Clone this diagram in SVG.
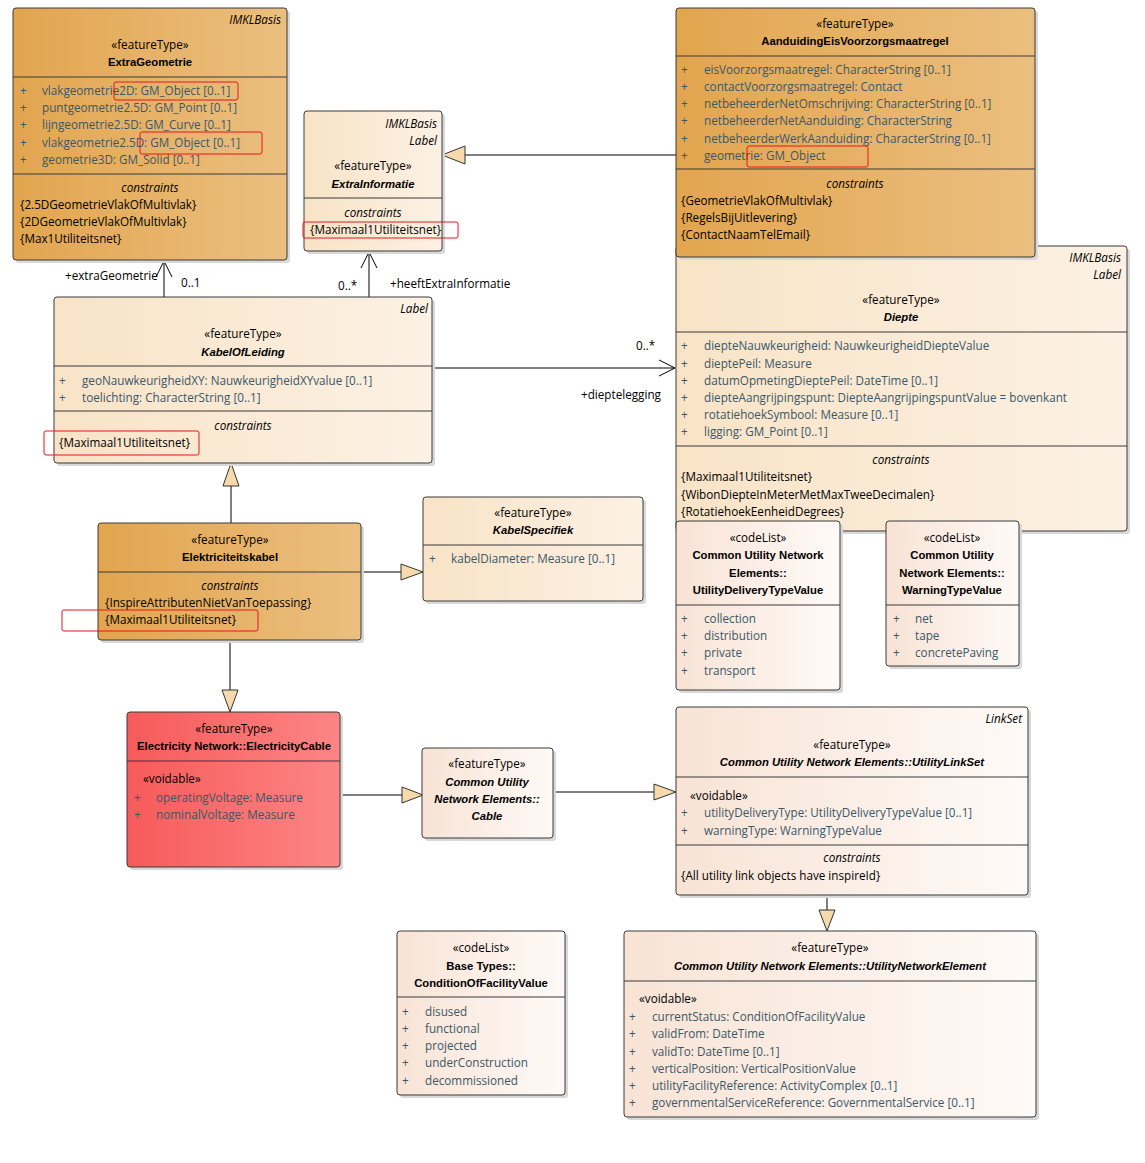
<svg xmlns="http://www.w3.org/2000/svg" width="1145" height="1163" viewBox="0 0 1145 1163">
<defs>
<linearGradient id="gOr" x1="0" y1="0" x2="1" y2="0"><stop offset="0" stop-color="#e2a54e"/><stop offset="1" stop-color="#ebbf80"/></linearGradient>
<linearGradient id="gLt" x1="0" y1="0" x2="1" y2="0"><stop offset="0" stop-color="#f8e3c6"/><stop offset="1" stop-color="#fcf1e4"/></linearGradient>
<linearGradient id="gPk" x1="0" y1="0" x2="1" y2="0"><stop offset="0" stop-color="#f8e3d5"/><stop offset="1" stop-color="#fefaf7"/></linearGradient>
<linearGradient id="gRd" x1="0" y1="0" x2="1" y2="0"><stop offset="0" stop-color="#f75a5a"/><stop offset="1" stop-color="#fd8585"/></linearGradient>
<marker id="open" viewBox="0 0 20 20" refX="18" refY="10" markerWidth="20" markerHeight="20" markerUnits="userSpaceOnUse" orient="auto"><path d="M2,2 L18,10 L2,18" fill="none" stroke="#000" stroke-width="1"/></marker>
</defs>
<style>
text{font-family:"Open Sans","Liberation Sans",Arial,sans-serif;font-size:11.7px;fill:#000}
.c{text-anchor:middle}
.r{text-anchor:end}
.b{font-weight:bold;font-family:"Liberation Sans",Arial,sans-serif;font-size:11.3px}
.i{font-style:italic}
.a{fill:#3a5868}
.box{stroke:#3a3a3a;stroke-width:1}
.sh{fill:#d8d8d8}
.dv{stroke:#3a3a3a;stroke-width:1}
.hl{fill:none;stroke:#e8141c;stroke-width:1}
.ln{stroke:#000;stroke-width:1;fill:none}
.tri{fill:#f6d9ad;stroke:#333;stroke-width:1}
</style>
<rect width="1145" height="1163" fill="#fff"/>

<g id="connectors">
<line class="ln" x1="164" y1="297" x2="164" y2="261" marker-end="url(#open)"/>
<text x="65" y="280">+extraGeometrie</text>
<text x="181" y="287">0..1</text>
<line class="ln" x1="369" y1="297" x2="369" y2="252" marker-end="url(#open)"/>
<text x="338" y="290">0..*</text>
<text x="390" y="288">+heeftExtraInformatie</text>
<line class="ln" x1="432" y1="368" x2="675" y2="368" marker-end="url(#open)"/>
<text x="636" y="350">0..*</text>
<text x="581" y="399">+dieptelegging</text>
<line class="ln" x1="676" y1="155" x2="464" y2="155"/>
<path class="tri" d="M442,155 L465,146 L465,164 Z"/>
<line class="ln" x1="231" y1="523" x2="231" y2="486"/>
<path class="tri" d="M231,463 L223,486 L239,486 Z"/>
<line class="ln" x1="361" y1="572" x2="401" y2="572"/>
<path class="tri" d="M423,572 L401,564 L401,580 Z"/>
<line class="ln" x1="230" y1="640" x2="230" y2="690"/>
<path class="tri" d="M230,712 L222,690 L238,690 Z"/>
<line class="ln" x1="340" y1="795" x2="402" y2="795"/>
<path class="tri" d="M423,795 L402,787 L402,803 Z"/>
<line class="ln" x1="553" y1="792" x2="654" y2="792"/>
<path class="tri" d="M676,792 L654,784 L654,800 Z"/>
<line class="ln" x1="827" y1="895" x2="827" y2="910"/>
<path class="tri" d="M827,931 L819,910 L835,910 Z"/>
</g>

<g id="ExtraGeometrie">
<rect class="sh" x="16" y="11" width="274" height="252" rx="3"/>
<rect class="box" x="13" y="8" width="274" height="252" rx="3" fill="url(#gOr)"/>
<text class="r i" x="281" y="24">IMKLBasis</text>
<text class="c" x="150" y="49">«featureType»</text>
<text class="c b" x="150" y="66">ExtraGeometrie</text>
<line class="dv" x1="13" y1="77" x2="287" y2="77"/>
<text class="a" x="20" y="95">+</text><text class="a" x="42" y="95">vlakgeometrie2D: GM_Object [0..1]</text>
<text class="a" x="20" y="112">+</text><text class="a" x="42" y="112">puntgeometrie2.5D: GM_Point [0..1]</text>
<text class="a" x="20" y="129">+</text><text class="a" x="42" y="129">lijngeometrie2.5D: GM_Curve [0..1]</text>
<text class="a" x="20" y="147">+</text><text class="a" x="42" y="147">vlakgeometrie2.5D: GM_Object [0..1]</text>
<text class="a" x="20" y="164">+</text><text class="a" x="42" y="164">geometrie3D: GM_Solid [0..1]</text>
<line class="dv" x1="13" y1="174" x2="287" y2="174"/>
<text class="c i" x="150" y="192">constraints</text>
<text x="20" y="209">{2.5DGeometrieVlakOfMultivlak}</text>
<text x="20" y="226">{2DGeometrieVlakOfMultivlak}</text>
<text x="20" y="243">{Max1Utiliteitsnet}</text>
<rect class="hl" x="114" y="82" width="124" height="18" rx="2"/>
<rect class="hl" x="140" y="132" width="122" height="22" rx="2"/>
</g>

<g id="ExtraInformatie">
<rect class="sh" x="307" y="114" width="138" height="140" rx="3"/>
<rect class="box" x="304" y="111" width="138" height="140" rx="3" fill="url(#gLt)"/>
<text class="r i" x="437" y="128">IMKLBasis</text>
<text class="r i" x="437" y="145">Label</text>
<text class="c" x="373" y="170">«featureType»</text>
<text class="c b i" x="373" y="188">ExtraInformatie</text>
<line class="dv" x1="304" y1="198" x2="442" y2="198"/>
<text class="c i" x="373" y="217">constraints</text>
<text x="310" y="234">{Maximaal1Utiliteitsnet}</text>
<rect class="hl" x="303" y="222" width="155" height="16" rx="2"/>
</g>

<g id="Diepte">
<rect class="sh" x="679" y="249" width="451" height="285" rx="3"/>
<rect class="box" x="676" y="246" width="451" height="285" rx="3" fill="url(#gLt)"/>
<text class="r i" x="1121" y="262">IMKLBasis</text>
<text class="r i" x="1121" y="279">Label</text>
<text class="c" x="901" y="304">«featureType»</text>
<text class="c b i" x="901" y="321">Diepte</text>
<line class="dv" x1="676" y1="332" x2="1127" y2="332"/>
<text class="a" x="681" y="350">+</text><text class="a" x="704" y="350">diepteNauwkeurigheid: NauwkeurigheidDiepteValue</text>
<text class="a" x="681" y="368">+</text><text class="a" x="704" y="368">dieptePeil: Measure</text>
<text class="a" x="681" y="385">+</text><text class="a" x="704" y="385">datumOpmetingDieptePeil: DateTime [0..1]</text>
<text class="a" x="681" y="402">+</text><text class="a" x="704" y="402">diepteAangrijpingspunt: DiepteAangrijpingspuntValue = bovenkant</text>
<text class="a" x="681" y="419">+</text><text class="a" x="704" y="419">rotatiehoekSymbool: Measure [0..1]</text>
<text class="a" x="681" y="436">+</text><text class="a" x="704" y="436">ligging: GM_Point [0..1]</text>
<line class="dv" x1="676" y1="446" x2="1127" y2="446"/>
<text class="c i" x="901" y="464">constraints</text>
<text x="681" y="481">{Maximaal1Utiliteitsnet}</text>
<text x="681" y="499">{WibonDiepteInMeterMetMaxTweeDecimalen}</text>
<text x="681" y="516">{RotatiehoekEenheidDegrees}</text>
</g>

<g id="AanduidingEisVoorzorgsmaatregel">
<rect class="sh" x="679" y="11" width="359" height="249" rx="3"/>
<rect class="box" x="676" y="8" width="359" height="249" rx="3" fill="url(#gOr)"/>
<text class="c" x="855" y="28">«featureType»</text>
<text class="c b" x="855" y="45">AanduidingEisVoorzorgsmaatregel</text>
<line class="dv" x1="676" y1="56" x2="1035" y2="56"/>
<text class="a" x="681" y="74">+</text><text class="a" x="704" y="74">eisVoorzorgsmaatregel: CharacterString [0..1]</text>
<text class="a" x="681" y="91">+</text><text class="a" x="704" y="91">contactVoorzorgsmaatregel: Contact</text>
<text class="a" x="681" y="108">+</text><text class="a" x="704" y="108">netbeheerderNetOmschrijving: CharacterString [0..1]</text>
<text class="a" x="681" y="125">+</text><text class="a" x="704" y="125">netbeheerderNetAanduiding: CharacterString</text>
<text class="a" x="681" y="143">+</text><text class="a" x="704" y="143">netbeheerderWerkAanduiding: CharacterString [0..1]</text>
<text class="a" x="681" y="160">+</text><text class="a" x="704" y="160">geometrie: GM_Object</text>
<line class="dv" x1="676" y1="169" x2="1035" y2="169"/>
<text class="c i" x="855" y="188">constraints</text>
<text x="681" y="205">{GeometrieVlakOfMultivlak}</text>
<text x="681" y="222">{RegelsBijUitlevering}</text>
<text x="681" y="239">{ContactNaamTelEmail}</text>
<rect class="hl" x="747" y="146" width="121" height="21" rx="2"/>
</g>

<g id="KabelOfLeiding">
<rect class="sh" x="57" y="300" width="378" height="166" rx="3"/>
<rect class="box" x="54" y="297" width="378" height="166" rx="3" fill="url(#gLt)"/>
<text class="r i" x="428" y="313">Label</text>
<text class="c" x="243" y="338">«featureType»</text>
<text class="c b i" x="243" y="356">KabelOfLeiding</text>
<line class="dv" x1="54" y1="366" x2="432" y2="366"/>
<text class="a" x="59" y="385">+</text><text class="a" x="82" y="385">geoNauwkeurigheidXY: NauwkeurigheidXYvalue [0..1]</text>
<text class="a" x="59" y="402">+</text><text class="a" x="82" y="402">toelichting: CharacterString [0..1]</text>
<line class="dv" x1="54" y1="411" x2="432" y2="411"/>
<text class="c i" x="243" y="430">constraints</text>
<text x="59" y="447">{Maximaal1Utiliteitsnet}</text>
<rect class="hl" x="44" y="431" width="155" height="24" rx="2"/>
</g>

<g id="KabelSpecifiek">
<rect class="sh" x="426" y="500" width="220" height="104" rx="3"/>
<rect class="box" x="423" y="497" width="220" height="104" rx="3" fill="url(#gLt)"/>
<text class="c" x="533" y="517">«featureType»</text>
<text class="c b i" x="533" y="534">KabelSpecifiek</text>
<line class="dv" x1="423" y1="545" x2="643" y2="545"/>
<text class="a" x="429" y="563">+</text><text class="a" x="451" y="563">kabelDiameter: Measure [0..1]</text>
</g>

<g id="Elektriciteitskabel">
<rect class="sh" x="101" y="526" width="263" height="117" rx="3"/>
<rect class="box" x="98" y="523" width="263" height="117" rx="3" fill="url(#gOr)"/>
<text class="c" x="230" y="544">«featureType»</text>
<text class="c b" x="230" y="561">Elektriciteitskabel</text>
<line class="dv" x1="98" y1="572" x2="361" y2="572"/>
<text class="c i" x="230" y="590">constraints</text>
<text x="105" y="607">{InspireAttributenNietVanToepassing}</text>
<text x="105" y="624">{Maximaal1Utiliteitsnet}</text>
<rect class="hl" x="62" y="610" width="196" height="21" rx="2"/>
</g>

<g id="UtilityDeliveryTypeValue">
<rect class="sh" x="679" y="524" width="164" height="169" rx="3"/>
<rect class="box" x="676" y="521" width="164" height="169" rx="3" fill="url(#gPk)"/>
<text class="c" x="758" y="542">«codeList»</text>
<text class="c b" x="758" y="559">Common Utility Network</text>
<text class="c b" x="758" y="577">Elements::</text>
<text class="c b" x="758" y="594">UtilityDeliveryTypeValue</text>
<line class="dv" x1="676" y1="605" x2="840" y2="605"/>
<text class="a" x="681" y="623">+</text><text class="a" x="704" y="623">collection</text>
<text class="a" x="681" y="640">+</text><text class="a" x="704" y="640">distribution</text>
<text class="a" x="681" y="657">+</text><text class="a" x="704" y="657">private</text>
<text class="a" x="681" y="675">+</text><text class="a" x="704" y="675">transport</text>
</g>

<g id="WarningTypeValue">
<rect class="sh" x="889" y="524" width="133" height="145" rx="3"/>
<rect class="box" x="886" y="521" width="133" height="145" rx="3" fill="url(#gPk)"/>
<text class="c" x="952" y="542">«codeList»</text>
<text class="c b" x="952" y="559">Common Utility</text>
<text class="c b" x="952" y="577">Network Elements::</text>
<text class="c b" x="952" y="594">WarningTypeValue</text>
<line class="dv" x1="886" y1="605" x2="1019" y2="605"/>
<text class="a" x="893" y="623">+</text><text class="a" x="915" y="623">net</text>
<text class="a" x="893" y="640">+</text><text class="a" x="915" y="640">tape</text>
<text class="a" x="893" y="657">+</text><text class="a" x="915" y="657">concretePaving</text>
</g>

<g id="ElectricityCable">
<rect class="sh" x="130" y="715" width="213" height="155" rx="3"/>
<rect class="box" x="127" y="712" width="213" height="155" rx="3" fill="url(#gRd)"/>
<text class="c" x="234" y="733">«featureType»</text>
<text class="c b" x="234" y="750">Electricity Network::ElectricityCable</text>
<line class="dv" x1="127" y1="761" x2="340" y2="761"/>
<text x="143" y="783">«voidable»</text>
<text class="a" x="134" y="802">+</text><text class="a" x="156" y="802">operatingVoltage: Measure</text>
<text class="a" x="134" y="819">+</text><text class="a" x="156" y="819">nominalVoltage: Measure</text>
</g>

<g id="Cable">
<rect class="sh" x="425" y="751" width="131" height="90" rx="3"/>
<rect class="box" x="422" y="748" width="131" height="90" rx="3" fill="url(#gPk)"/>
<text class="c" x="487" y="768">«featureType»</text>
<text class="c b i" x="487" y="786">Common Utility</text>
<text class="c b i" x="487" y="803">Network Elements::</text>
<text class="c b i" x="487" y="820">Cable</text>
</g>

<g id="UtilityLinkSet">
<rect class="sh" x="679" y="710" width="352" height="188" rx="3"/>
<rect class="box" x="676" y="707" width="352" height="188" rx="3" fill="url(#gPk)"/>
<text class="r i" x="1022" y="723">LinkSet</text>
<text class="c" x="852" y="749">«featureType»</text>
<text class="c b i" x="852" y="766">Common Utility Network Elements::UtilityLinkSet</text>
<line class="dv" x1="676" y1="777" x2="1028" y2="777"/>
<text x="690" y="800">«voidable»</text>
<text class="a" x="681" y="817">+</text><text class="a" x="704" y="817">utilityDeliveryType: UtilityDeliveryTypeValue [0..1]</text>
<text class="a" x="681" y="835">+</text><text class="a" x="704" y="835">warningType: WarningTypeValue</text>
<line class="dv" x1="676" y1="845" x2="1028" y2="845"/>
<text class="c i" x="852" y="862">constraints</text>
<text x="681" y="880">{All utility link objects have inspireId}</text>
</g>

<g id="ConditionOfFacilityValue">
<rect class="sh" x="400" y="934" width="168" height="164" rx="3"/>
<rect class="box" x="397" y="931" width="168" height="164" rx="3" fill="url(#gPk)"/>
<text class="c" x="481" y="952">«codeList»</text>
<text class="c b" x="481" y="970">Base Types::</text>
<text class="c b" x="481" y="987">ConditionOfFacilityValue</text>
<line class="dv" x1="397" y1="997" x2="565" y2="997"/>
<text class="a" x="402" y="1016">+</text><text class="a" x="425" y="1016">disused</text>
<text class="a" x="402" y="1033">+</text><text class="a" x="425" y="1033">functional</text>
<text class="a" x="402" y="1050">+</text><text class="a" x="425" y="1050">projected</text>
<text class="a" x="402" y="1067">+</text><text class="a" x="425" y="1067">underConstruction</text>
<text class="a" x="402" y="1085">+</text><text class="a" x="425" y="1085">decommissioned</text>
</g>

<g id="UtilityNetworkElement">
<rect class="sh" x="627" y="934" width="412" height="186" rx="3"/>
<rect class="box" x="624" y="931" width="412" height="186" rx="3" fill="url(#gPk)"/>
<text class="c" x="830" y="952">«featureType»</text>
<text class="c b i" x="830" y="970">Common Utility Network Elements::UtilityNetworkElement</text>
<line class="dv" x1="624" y1="981" x2="1036" y2="981"/>
<text x="639" y="1003">«voidable»</text>
<text class="a" x="629" y="1021">+</text><text class="a" x="652" y="1021">currentStatus: ConditionOfFacilityValue</text>
<text class="a" x="629" y="1038">+</text><text class="a" x="652" y="1038">validFrom: DateTime</text>
<text class="a" x="629" y="1056">+</text><text class="a" x="652" y="1056">validTo: DateTime [0..1]</text>
<text class="a" x="629" y="1073">+</text><text class="a" x="652" y="1073">verticalPosition: VerticalPositionValue</text>
<text class="a" x="629" y="1090">+</text><text class="a" x="652" y="1090">utilityFacilityReference: ActivityComplex [0..1]</text>
<text class="a" x="629" y="1107">+</text><text class="a" x="652" y="1107">governmentalServiceReference: GovernmentalService [0..1]</text>
</g>
</svg>
